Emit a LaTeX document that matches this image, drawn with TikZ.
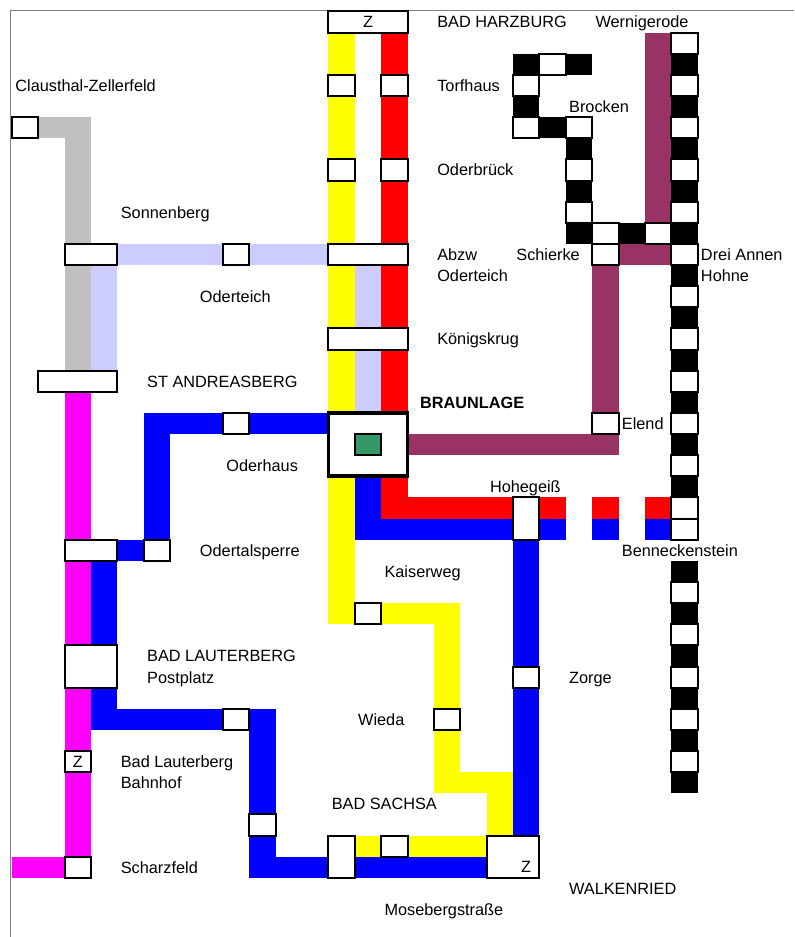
\documentclass[tikz,border=0pt]{standalone}
\usepackage{fontspec}
\setmainfont{Liberation Sans}
\usetikzlibrary{backgrounds}
\definecolor{lila}{HTML}{CCCCFF}
\definecolor{grau}{HTML}{C0C0C0}
\definecolor{violett}{HTML}{993366}
\definecolor{gruen}{HTML}{339966}
\definecolor{gelb}{HTML}{FFFF00}
\definecolor{pink}{HTML}{FF00FF}
\definecolor{rot}{HTML}{FF0000}
\definecolor{blau}{HTML}{0000FF}
\tikzset{
    halt/.style 2 args={draw,fill=white,line width=2pt,inner sep=0pt,minimum width=#1*26.37pt,minimum height=#2*21.13pt,font=\fontsize{16.3}{19}\selectfont},
    klein/.style={halt={1}{1}},
    vbar/.style={line width=26.37pt,shorten <=-10.565pt,shorten >=-10.565pt},
    hbar/.style={line width=21.13pt,shorten <=-13.185pt,shorten >=-13.185pt},
    ort/.style={anchor=base west,inner sep=0pt,font=\fontsize{16.3}{19}\selectfont}
}
\begin{document}
\begin{tikzpicture}[x=26.37pt,y=-21.13pt]
\useasboundingbox (-.455,-.544) rectangle (29.655,43.8);
\draw[gray,line width=1pt] (-.04,43.8) |- (29.655,-.07);
% stops of the middle lines
\node[halt={3}{1}] (harzburg) at (13.5,.5) {Z};
\node[klein] (torfG) at (12.5,3.5) {};
\node[klein] (torfR) at (14.5,3.5) {};
\node[klein] (oderbG) at (12.5,7.5) {};
\node[klein] (oderbR) at (14.5,7.5) {};
\node[halt={3}{1}] (abzw) at (13.5,11.5) {};
\node[halt={3}{1}] (koenig) at (13.5,15.5) {};
\node[halt={3}{3},line width=3.8pt] (braunlage) at (13.5,20.5) {};
\node[klein,fill=gruen] (gleis) at (13.5,20.5) {};
\node[klein] (kaiser) at (13.5,28.5) {};
\node[klein] (wieda) at (16.5,33.5) {};
\node[klein] (zorge) at (19.5,31.5) {};
\node[halt={1}{2}] (hohegeiss) at (19.5,24) {};
\node[halt={1}{2}] (moseberg) at (12.5,40) {};
\node[klein] (sachsa) at (14.5,39.5) {};
\node[halt={2}{2}] (walkenried) at (19,40) {};
\node[inner sep=0pt,font=\fontsize{16.3}{19}\selectfont] (walkenriedZ) at (19.5,40.5) {Z};
% stops on the left
\node[klein] (clausthal) at (.5,5.5) {};
\node[halt={2}{1}] (sonnenberg) at (3,11.5) {};
\node[klein] (oderteich) at (8.5,11.5) {};
\node[halt={3}{1}] (andreas) at (2.5,17.5) {};
\node[klein] (oderhaus) at (8.5,19.5) {};
\node[halt={2}{1}] (talA) at (3,25.5) {};
\node[klein] (talB) at (5.5,25.5) {};
\node[halt={2}{2}] (postplatz) at (3,31) {};
\node[klein] (lautern) at (8.5,33.5) {};
\node[klein] (bahnhof) at (2.5,35.5) {Z};
\node[klein] (sachsaW) at (9.5,38.5) {};
\node[klein] (scharz) at (2.5,40.5) {};
% stops of the Brocken line
\node[klein] (brockenA) at (20.5,2.5) {};
\node[klein] (brockenB) at (19.5,3.5) {};
\node[klein] (brockenC) at (19.5,5.5) {};
\node[klein] (brocken) at (21.5,5.5) {};
\node[klein] (brockenD) at (21.5,7.5) {};
\node[klein] (brockenE) at (21.5,9.5) {};
\node[klein] (brockenF) at (22.5,10.5) {};
\node[klein] (brockenG) at (24.5,10.5) {};
\node[klein] (schierke) at (22.5,11.5) {};
\node[klein] (elend) at (22.5,19.5) {};
\foreach \r [count=\n] in {1.5,3.5,...,23.5,24.5,27.5,29.5,31.5,33.5,35.5}
{
    \node[klein] (spalte\n) at (25.5,\r) {};
}
\coordinate (lilaW) at (3.5,11.5);
\coordinate (blauW) at (3.5,25.5);
\coordinate (pinkW) at (.5,40.5);
\coordinate (gelbE) at (18.5,36.5);
\coordinate (violettN) at (24.5,1.5);
\coordinate (schwarzE) at (21.5,2.5);
\coordinate (schwarzN) at (25.5,26.5);
\coordinate (schwarzS) at (25.5,36.5);

\begin{scope}[on background layer]
\draw[hbar,grau] (clausthal.center)--(andreas |- clausthal);
\draw[vbar,grau] (andreas |- clausthal)--(andreas.center);
\draw[hbar,lila] (sonnenberg.center)--(oderteich.center)--(abzw.center);
\draw[vbar,lila] (lilaW)--(lilaW |- andreas);
\draw[vbar,lila] (abzw.center)--(koenig.center)--(braunlage.center);
\draw[vbar,pink] (andreas.center)--(scharz.center);
\draw[hbar,pink] (scharz.center)--(pinkW);

\draw[vbar,gelb] (torfG |- harzburg)--(torfG.center)--(oderbG.center)--(torfG |- kaiser);
\draw[hbar,gelb] (torfG |- kaiser)--(kaiser.center)--(wieda |- kaiser);
\draw[vbar,gelb] (wieda |- kaiser)--(wieda.center)--(wieda |- gelbE);
\draw[hbar,gelb] (wieda |- gelbE)--(gelbE);
\draw[vbar,gelb] (gelbE)--(gelbE |- sachsa);
\draw[hbar,gelb] (gelbE |- sachsa)--(sachsa.center)--(moseberg |- sachsa);

\draw[vbar,rot] (torfR |- harzburg)--(torfR.center)--(oderbR.center)--(torfR |- spalte12);
\draw[hbar,rot,dash pattern=on 184.6pt off 26.37pt on 26.37pt off 26.37pt on 52.74pt] (torfR |- spalte12)--(spalte12.center);
\draw[vbar,blau] (braunlage.center)--(braunlage |- spalte13);
\draw[hbar,blau,dash pattern=on 210.96pt off 26.37pt on 26.37pt off 26.37pt on 52.74pt] (braunlage |- spalte13)--(spalte13.center);
\draw[vbar,blau] (hohegeiss.center)--(zorge.center)--(zorge |- walkenried);

\draw[hbar,blau] (braunlage |- oderhaus)--(oderhaus.center)--(talB |- oderhaus);
\draw[vbar,blau] (talB |- oderhaus)--(talB.center);
\draw[hbar,blau] (talB.center)--(talA.center);
\draw[vbar,blau] (blauW)--(blauW |- lautern);
\draw[hbar,blau] (blauW |- lautern)--(lautern.center)--(sachsaW |- lautern);
\draw[vbar,blau] (sachsaW |- lautern)--(sachsaW.center)--(sachsaW |- scharz);
\draw[hbar,blau] (sachsaW |- scharz)--(walkenried |- scharz);

\draw[vbar,violett] (violettN)--(violettN |- schierke);
\draw[hbar,violett] (violettN |- schierke)--(schierke.center);
\draw[vbar,violett] (schierke.center)--(elend.center)--(elend |- braunlage);
\draw[hbar,violett] (elend |- braunlage)--(braunlage.center);

\draw[vbar,black] (spalte1.center)--(spalte12.center);
\draw[vbar,black] (schwarzN)--(schwarzS);
\draw[hbar,black] (schwarzE)--(brockenA.center)--(brockenB |- schwarzE);
\draw[vbar,black] (brockenB |- schwarzE)--(brockenB.center)--(brockenC.center);
\draw[hbar,black] (brockenC.center)--(brocken.center);
\draw[vbar,black] (brocken.center)--(brockenD.center)--(brockenE.center)--(brocken |- brockenF);
\draw[hbar,black] (brocken |- brockenF)--(brockenF.center)--(brockenG.center)--(spalte6 |- brockenG);
\end{scope}

% names of the stops
\node[ort] (nHarzburg) at (16.12,.78) {BAD HARZBURG};
\node[ort] (nWernigerode) at (22.12,.78) {Wernigerode};
\node[ort] (nTorfhaus) at (16.12,3.78) {Torfhaus};
\node[ort] (nBrocken) at (21.12,4.78) {Brocken};
\node[ort] (nOderbrueck) at (16.12,7.78) {Oderbrück};
\node[ort] (nAbzw) at (16.12,11.78) {Abzw};
\node[ort] (nOderteichA) at (16.12,12.78) {Oderteich};
\node[ort] (nSchierke) at (19.12,11.78) {Schierke};
\node[ort] (nDreiAnnen) at (26.12,11.78) {Drei Annen};
\node[ort] (nHohne) at (26.12,12.78) {Hohne};
\node[ort] (nClausthal) at (.12,3.78) {Clausthal-Zellerfeld};
\node[ort] (nSonnenberg) at (4.12,9.78) {Sonnenberg};
\node[ort] (nOderteichB) at (7.12,13.78) {Oderteich};
\node[ort] (nKoenigskrug) at (16.12,15.78) {Königskrug};
\node[ort] (nAndreas) at (5.12,17.78) {ST ANDREASBERG};
\node[ort,font=\fontsize{16.3}{19}\selectfont\bfseries] (nBraunlage) at (15.47,18.78) {BRAUNLAGE};
\node[ort] (nOderhaus) at (8.12,21.78) {Oderhaus};
\node[ort] (nElend) at (23.12,19.78) {Elend};
\node[ort] (nHohegeiss) at (18.12,22.78) {Hohegeiß};
\node[ort] (nBenneckenstein) at (23.12,25.78) {Benneckenstein};
\node[ort] (nOdertal) at (7.12,25.78) {Odertalsperre};
\node[ort] (nKaiserweg) at (14.12,26.78) {Kaiserweg};
\node[ort] (nLauterberg) at (5.12,30.78) {BAD LAUTERBERG};
\node[ort] (nPostplatz) at (5.12,31.78) {Postplatz};
\node[ort] (nZorge) at (21.12,31.78) {Zorge};
\node[ort] (nWieda) at (13.12,33.78) {Wieda};
\node[ort] (nBahnhofA) at (4.12,35.78) {Bad Lauterberg};
\node[ort] (nBahnhofB) at (4.12,36.78) {Bahnhof};
\node[ort] (nSachsa) at (12.12,37.78) {BAD SACHSA};
\node[ort] (nScharzfeld) at (4.12,40.78) {Scharzfeld};
\node[ort] (nWalkenried) at (21.12,41.78) {WALKENRIED};
\node[ort] (nMoseberg) at (14.12,42.78) {Mosebergstraße};
\end{tikzpicture}
\end{document}
